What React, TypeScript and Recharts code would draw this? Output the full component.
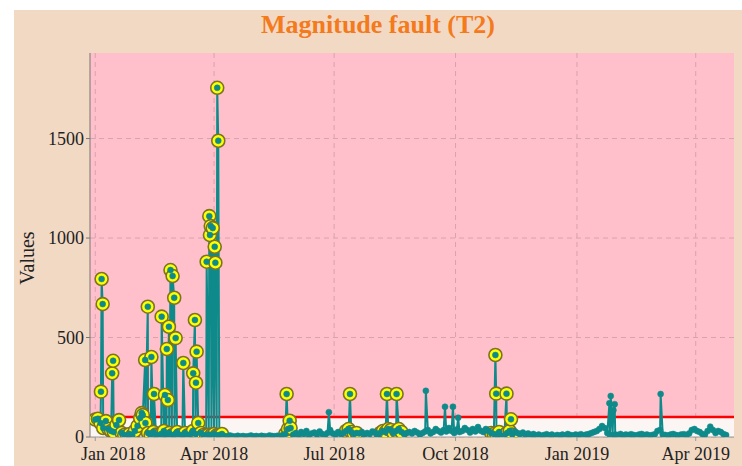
import React from 'react';
import {
  ComposedChart,
  Line,
  XAxis,
  YAxis,
  CartesianGrid,
  ReferenceArea,
  ReferenceLine,
} from 'recharts';

// days counted from 1 Jan 2018
const tickDays = [0, 90, 181, 273, 365, 455];
const tickLabels = ['Jan 2018', 'Apr 2018', 'Jul 2018', 'Oct 2018', 'Jan 2019', 'Apr 2019'];
const yTicks = [0, 500, 1000, 1500];
const threshold = 100;

// background readings, one every second day
const baseline = [
  88, 92, 70, 45, 80, 40, 30, 25, 60, 85, 20, 10, 5, 15, 8, 30, 55, 95, 110, 70,
  20, 10, 25, 12, 5, 15, 30, 10, 20, 8, 12, 25, 10, 5, 20, 8, 12, 30, 15, 70,
  20, 10, 8, 12, 10, 15, 8, 10, 15,
  5, 3, 8, 4, 2, 6, 3, 5, 2, 4, 7, 3, 5, 2, 6, 4, 3, 8, 5, 4, 6, 3, 10, 15,
  40, 45,
  12, 20, 8, 25, 15, 30, 10, 18, 22, 12, 28, 15, 10, 20, 35, 18, 12, 25, 15, 20,
  30, 40, 25, 15, 20,
  18, 25, 12, 20, 15, 28, 22, 10, 20,
  30, 25, 40, 35, 20, 30, 40, 25,
  15, 20, 25, 18, 30, 22, 12, 20, 28, 35, 18, 25, 40, 30, 22, 35, 28, 45, 30, 20,
  38, 25, 30, 45, 35, 22, 40, 28, 50, 32, 25, 40, 30, 20,
  15, 10, 25, 5, 8, 20, 30, 12,
  28, 20, 15, 22, 12, 18, 10, 15, 8, 12, 6, 10, 14, 8, 12, 5, 10, 8, 12, 6,
  15, 10, 8, 12, 10, 14, 8, 12, 15, 20, 25, 30,
  40, 55, 45, 20, 10, 8, 12, 10, 15, 8, 12, 10, 14, 10, 8, 12, 15, 10, 12, 8,
  10, 14, 30, 35, 12, 10, 8, 12, 15, 10, 8, 12, 14, 10, 18, 35, 40, 30, 25, 15,
  12, 30, 52, 35, 20, 30, 25, 15, 10,
];

const spikeDays = [
  4.3, 4.8, 5.6, 12.8, 13.5, 35.2, 37.8, 39.8, 42.5, 44.5, 50.3, 52.8, 54.2, 55,
  55.8, 57, 58.6, 59.8, 60.9, 66.7, 74.2, 75.5, 76.3, 76.8, 84.4, 86.4, 86.9,
  87.5, 89, 90.5, 91, 92.4, 93.2,
  145, 147.3, 177, 193, 221, 228.3, 250.5, 265, 271, 275, 303.2, 303.8, 311.6,
  315, 389.6, 390.6, 392.6, 393.6, 428.4,
];
const spikeValues = [
  228, 794, 668, 320, 383, 120, 387, 655, 402, 216, 605, 211, 442, 186,
  554, 839, 809, 700, 497, 372, 320, 588, 273, 429, 881, 1110, 1015,
  1060, 1050, 956, 876, 1755, 1489,
  216, 82, 125, 216, 216, 216, 232, 152, 152, 97, 412, 218, 218,
  89, 170, 206, 135, 165, 216,
];

// periods flagged as faulty
const faultSpans = [
  [0, 97],
  [143, 149],
  [189, 199],
  [216, 233],
  [300, 317],
];

const points = baseline
  .map((v, i) => ({ day: i * 2, value: v }))
  .concat(spikeDays.map((d, i) => ({ day: d, value: spikeValues[i] })))
  .sort((a, b) => a.day - b.day);

const faultPoints = points.filter((p) =>
  faultSpans.some(([a, b]) => p.day >= a && p.day <= b)
);

const TEAL = '#0f8a8a';
const FONT = '"Liberation Serif", "Times New Roman", serif';

const FaultDot = (props: any) => {
  const { cx, cy, index } = props;
  if (cx == null || cy == null) return null;
  return (
    <circle
      key={'f' + index}
      cx={cx}
      cy={cy}
      r={6.5}
      fill="#ffff00"
      stroke="#7b7325"
      strokeWidth={1.6}
    />
  );
};

const XTick = (props: any) => {
  const { x, y, payload, index } = props;
  const i = tickDays.indexOf(payload.value);
  return (
    <text
      x={x + (index === 0 ? 18 : 0)}
      y={y}
      dy="0.71em"
      textAnchor="middle"
      fontSize={18}
      fontFamily={FONT}
      fill="#222"
    >
      {tickLabels[i]}
    </text>
  );
};

export default function App() {
  return (
    <div
      style={{
        position: 'absolute',
        left: 0,
        top: 0,
        width: 742,
        height: 466,
        background: '#ffffff',
        overflow: 'hidden',
      }}
    >
      <div
        style={{
          position: 'absolute',
          left: 14,
          top: 10,
          width: 728,
          height: 456,
          background: '#f2d9c4',
        }}
      >
        <div
          style={{
            position: 'absolute',
            left: 0,
            top: 0,
            width: 728,
            height: 30,
            lineHeight: '30px',
            textAlign: 'center',
            fontFamily: FONT,
            fontWeight: 'bold',
            fontSize: 26,
            color: '#f47a1c',
          }}
        >
          Magnitude fault (T2)
        </div>
        <div
          style={{
            position: 'absolute',
            left: 13,
            top: 248,
            transform: 'translate(-50%, -50%) rotate(-90deg)',
            fontFamily: FONT,
            fontSize: 20,
            color: '#222',
            whiteSpace: 'nowrap',
          }}
        >
          Values
        </div>
        <ComposedChart
          width={728}
          height={456}
          data={points}
          margin={{ top: 43, right: 8, bottom: 3, left: 16 }}
        >
          <CartesianGrid
            fill="#ffc0cb"
            fillOpacity={1}
            stroke="#d6a4ae"
            strokeDasharray="5 4"
            syncWithTicks
          />
          <ReferenceArea
            y1={0}
            y2={threshold}
            fill="#fbf5f3"
            fillOpacity={1}
            stroke="none"
            ifOverflow="hidden"
          />
          <ReferenceLine y={threshold} stroke="#ff0000" strokeWidth={2.5} />
          <XAxis
            dataKey="day"
            type="number"
            domain={[-4, 484]}
            ticks={tickDays}
            allowDataOverflow
            height={26}
            tickSize={4}
            tickMargin={6}
            tick={<XTick />}
            stroke="#999"
          />
          <YAxis
            type="number"
            domain={[0, 1930]}
            ticks={yTicks}
            allowDataOverflow
            width={60}
            tickSize={4}
            tickMargin={2}
            stroke="#777"
            tick={{ fontSize: 18, fontFamily: FONT, fill: '#222' }}
          />
          <Line
            data={faultPoints}
            dataKey="value"
            stroke="none"
            dot={<FaultDot />}
            activeDot={false}
            isAnimationActive={false}
          />
          <Line
            dataKey="value"
            stroke={TEAL}
            strokeWidth={2}
            dot={{ r: 3, fill: TEAL, stroke: TEAL, strokeWidth: 0.5 }}
            activeDot={false}
            isAnimationActive={false}
          />
        </ComposedChart>
      </div>
    </div>
  );
}
